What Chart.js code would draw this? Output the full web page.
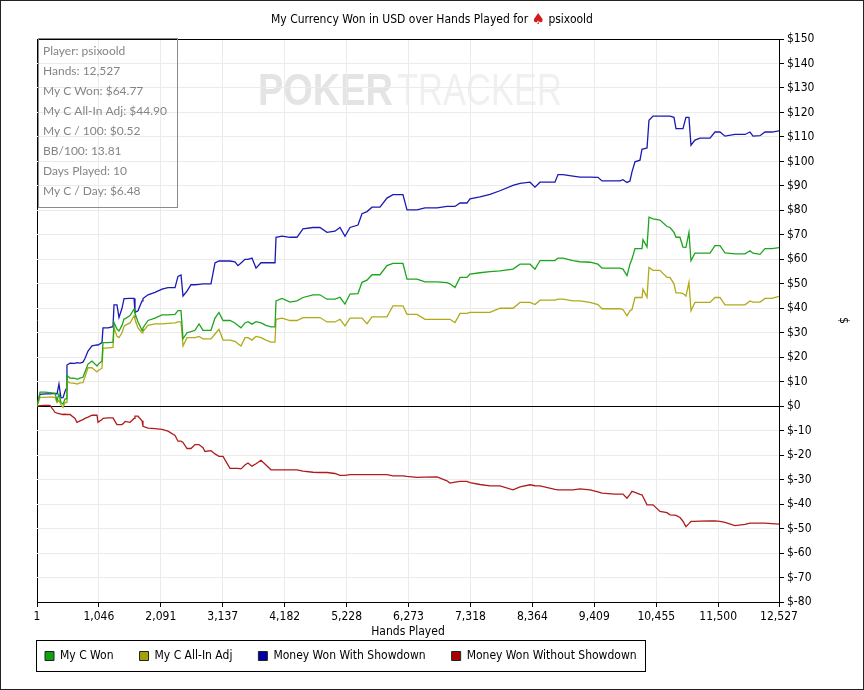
<!DOCTYPE html>
<html>
<head>
<meta charset="utf-8">
<script src="https://cdn.jsdelivr.net/npm/chart.js@4.4.0/dist/chart.umd.min.js"></script>
<style>
html, body { margin: 0; padding: 0; background: #fff; }
#wrap { width: 864px; height: 690px; }
</style>
</head>
<body>
<div id="wrap"><canvas id="grafica" width="864" height="690"></canvas></div>
<script>
// hands played (x) and the four running totals in $
const hands = [
  1, 52, 136, 220, 305, 339, 372, 406, 440, 474,
  491, 507, 558, 642, 676, 727, 777, 811, 862, 929,
  1014, 1031, 1098, 1115, 1200, 1284, 1301, 1351, 1385, 1436,
  1470, 1487, 1571, 1639, 1655, 1706, 1774, 1790, 1875, 1993,
  2111, 2212, 2331, 2381, 2432, 2466, 2533, 2601, 2668, 2736,
  2803, 2837, 2938, 3006, 3073, 3141, 3259, 3343, 3394, 3445,
  3512, 3563, 3630, 3698, 3782, 3867, 3951, 4019, 4036, 4137,
  4272, 4390, 4491, 4660, 4778, 4896, 5031, 5116, 5200, 5285,
  5420, 5487, 5572, 5656, 5791, 5909, 6010, 6179, 6247, 6416,
  6551, 6753, 6922, 6973, 7057, 7142, 7260, 7310, 7479, 7648,
  7817, 8036, 8155, 8324, 8408, 8492, 8745, 8796, 8881, 9049,
  9167, 9336, 9471, 9539, 9758, 9842, 9893, 9961, 10011, 10045,
  10096, 10180, 10214, 10231, 10299, 10332, 10400, 10518, 10636, 10687,
  10754, 10788, 10855, 10906, 10956, 11007, 11041, 11108, 11193, 11362,
  11446, 11531, 11615, 11784, 11953, 12037, 12088, 12206, 12290, 12408,
  12527
]
const myCWon = [
  0, 5.7, 5.7, 5.5, 5.2, 2.3, 5, 1.5, 0.8, 3,
  3, 12.6, 11.5, 11.4, 11, 11.5, 11.8, 14, 17.2, 18.4,
  16.4, 17, 18.5, 26, 26, 26.2, 34.2, 31.5, 30.7, 33,
  35.7, 35.7, 37, 39.6, 38, 34.4, 31, 32, 35, 36,
  37.3, 37.3, 37.5, 39, 39, 27.5, 30, 30.5, 31, 33.6,
  31, 31, 31, 36, 38.3, 35, 35, 34, 33, 32,
  34, 34.5, 33.5, 34.5, 34, 33, 32.4, 32.4, 43, 44,
  42.5, 43, 44.4, 45.5, 45.5, 43.7, 43.7, 44.5, 41.7, 45.8,
  46, 50.6, 51.5, 53.7, 53.7, 57.4, 58.3, 58.3, 51.9, 51.9,
  50.8, 50.8, 50.5, 50, 48.5, 52.6, 52.6, 54, 54.5, 55,
  55.3, 56, 58, 58, 56, 59.5, 59.5, 60.5, 60.5, 59.5,
  59, 58.8, 58, 56.4, 56.4, 56.4, 56, 53.3, 58, 60.1,
  64.4, 64.4, 64.4, 68, 65, 77.2, 76.5, 76, 73.4, 73,
  71, 69, 69, 65, 64.9, 71, 59.4, 62.5, 62.5, 62.5,
  65.6, 65.6, 62.6, 62.2, 62.2, 63.5, 62.5, 62, 64.4, 64.4,
  64.77
]
const allInAdj = [
  0, 3.6, 3.6, 3.8, 3.6, 1.5, 2.5, 0.5, -0.5, 1.5,
  1.5, 10.2, 9.5, 9.3, 9, 9.5, 9.6, 12, 15.7, 15.7,
  14, 14.5, 15.5, 23.6, 23.8, 24, 32.1, 28.5, 28, 30,
  32.5, 33, 34, 36.9, 35.5, 32, 30, 30.5, 33, 33.6,
  33.6, 33.8, 34, 34.4, 34.4, 24.6, 28, 28, 28, 28.5,
  27.5, 27.5, 27.5, 29.5, 31.4, 27, 27, 26.5, 25.5, 24.6,
  28, 28, 27, 28.5, 28, 27, 26.2, 26.2, 35.5, 36,
  35, 35, 36.2, 36.2, 36.2, 34.4, 34.4, 35.5, 32.8, 36,
  36, 36, 33.7, 36.5, 36.5, 36.5, 41, 41, 37.5, 37.5,
  35.5, 35.5, 35.5, 35.5, 34.2, 37.9, 37.9, 38.3, 38.3, 38.3,
  40, 40, 42.4, 42.4, 41.5, 43.3, 43.3, 43.7, 43.7, 43,
  43, 42.4, 41.5, 39.8, 39.8, 39.8, 39.5, 36.9, 39, 39.5,
  44.4, 44.4, 44.4, 47.8, 44.5, 56.7, 55.5, 55.5, 52.6, 52.6,
  50, 46.3, 46.3, 46, 45, 50.6, 39, 42.4, 42.4, 42.4,
  44.4, 44.4, 41.4, 41.4, 41.4, 43, 42.5, 42.5, 44, 44,
  44.9
]
const withShowdown = [
  0, 4.8, 5, 5, 5.2, 5, 9, 3.4, 3.5, 6,
  7, 16.8, 17.6, 17.5, 17.8, 17.6, 18, 19.5, 22.5, 24.6,
  25, 25, 26, 32, 32, 32.5, 41.4, 41.4, 36.2, 40,
  43.9, 43.9, 44, 44, 38.3, 39, 43, 44, 45.5, 46.5,
  47.8, 48.4, 48.4, 53, 53.6, 45, 47, 49.6, 49.6, 49.8,
  50, 50, 50, 58.5, 59.3, 59.3, 59.3, 59, 57.4, 58.5,
  60, 60, 60.5, 56.4, 58.6, 58.6, 58.6, 58.6, 69, 69.5,
  69, 69, 72.4, 73, 73, 71, 71.5, 73, 69.4, 73,
  74, 78.6, 79.5, 81.3, 81.3, 85, 86.4, 86.4, 80.2, 80.2,
  81, 81, 81.6, 81.6, 81.6, 83, 83, 84.7, 85.5, 86.5,
  88, 90.2, 91, 91.5, 89.5, 91.5, 91.5, 94.6, 94.6, 94,
  93.6, 93.6, 93.5, 92, 92, 92, 92.5, 91.4, 92, 95.7,
  99.8, 100.5, 105, 105, 105.5, 116.8, 118.5, 118.5, 118.5, 118.5,
  118, 113.4, 113.4, 113.4, 118, 118, 106.6, 108.7, 109.5, 109.5,
  112, 112, 110.3, 111, 111, 112, 110.3, 110.5, 112, 112,
  112.5
]
const withoutShowdown = [
  0, 0.2, 0.3, 0.3, -2.5, -2.8, -3, -3.2, -3.4, -3.3,
  -3.4, -3.4, -3.4, -5, -6.6, -6, -5.5, -5, -4.5, -3.7,
  -3.7, -6.6, -5.5, -5, -4.8, -4.8, -5.5, -7.5, -7.5, -7.5,
  -6.8, -6.2, -6.6, -5, -4.1, -4.1, -6, -8.2, -9, -9.2,
  -9.5, -10.2, -12, -14.3, -14.3, -14.8, -17.3, -17.3, -15.7, -15.7,
  -17, -18.5, -18.2, -19.5, -20.5, -20.5, -25.4, -25.4, -25.4, -25.6,
  -24, -23.2, -24.5, -23.5, -22.1, -24, -26, -26, -26, -26,
  -26, -26, -26.5, -27, -27.1, -27.1, -27.5, -28.3, -28.3, -28,
  -28, -28, -28, -28, -28, -28, -28.5, -28.5, -28.7, -29.1,
  -29, -28.9, -30.5, -31.4, -31, -30.7, -30.7, -31.2, -32, -32.6,
  -32.6, -34.2, -33, -32.1, -32.5, -32.6, -34, -34.2, -34.2, -34.2,
  -33.8, -34.2, -35, -35.5, -35.9, -35.9, -35.9, -37.6, -36, -34.8,
  -35.2, -36, -36.2, -37, -40.3, -40.3, -40.3, -43, -43.5, -44.4,
  -44.5, -44.6, -45.5, -47, -49.2, -48, -47.1, -47.1, -47, -46.9,
  -46.9, -47.1, -47.5, -48.8, -48.3, -47.8, -47.8, -47.8, -47.8, -48,
  -48.2
]

const xTicks = [1, 1046, 2091, 3137, 4182, 5228, 6273, 7318, 8364, 9409, 10455, 11500, 12527]
const yMin = -80
const yMax = 150
const yStep = 10

const infoLines = [
  'Player: psixoold',
  'Hands: 12,527',
  'My C Won: $64.77',
  'My C All-In Adj: $44.90',
  'My C / 100: $0.52',
  'BB/100: 13.81',
  'Days Played: 10',
  'My C / Day: $6.48'
]

const puntos = serie => hands.map((h, i) => ({x: h, y: serie[i]}))

const fuente = '"DejaVu Sans Condensed", "DejaVu Sans", sans-serif'
Chart.defaults.font.family = fuente
Chart.defaults.font.size = 12
Chart.defaults.color = '#000'

// title, info box, watermark, frames
const adornos = {
  id: 'adornos',
  afterLayout(chart) {
    const lg = chart.legend
    lg.left = 19
    lg.top -= 18
    lg.bottom -= 18
  },
  beforeDraw(chart) {
    const ctx = chart.ctx
    ctx.save()
    ctx.textBaseline = 'alphabetic'
    ctx.font = 'bold 45px "Liberation Sans", Arial, sans-serif'
    let w = ctx.measureText('POKER').width
    ctx.save()
    ctx.translate(258, 105)
    ctx.scale(135 / w, 1)
    ctx.fillStyle = '#e4e4e4'
    ctx.fillText('POKER', 0, 0)
    ctx.restore()
    ctx.font = '45px "Liberation Sans", Arial, sans-serif'
    w = ctx.measureText('TRACKER').width
    ctx.translate(397, 105)
    ctx.scale(165 / w, 1)
    ctx.fillStyle = '#f0f0f0'
    ctx.fillText('TRACKER', 0, 0)
    ctx.restore()
  },
  afterDraw(chart) {
    const ctx = chart.ctx
    ctx.save()
    // title
    const t1 = 'My Currency Won in USD over Hands Played for '
    const t2 = ' psixoold'
    ctx.font = '12px ' + fuente
    ctx.textBaseline = 'middle'
    const w1 = ctx.measureText(t1).width
    const w2 = ctx.measureText(t2).width
    ctx.font = '15px "DejaVu Sans", sans-serif'
    const ws = ctx.measureText('\u2660').width
    let x = 432 - (w1 + ws + w2) / 2
    ctx.font = '12px ' + fuente
    ctx.fillStyle = '#000'
    ctx.fillText(t1, x, 20)
    ctx.font = '15px "DejaVu Sans", sans-serif'
    ctx.fillStyle = '#d01c1c'
    ctx.fillText('\u2660', x + w1, 20)
    ctx.font = '12px ' + fuente
    ctx.fillStyle = '#000'
    ctx.fillText(t2, x + w1 + ws, 20)

    // info box
    ctx.strokeStyle = '#8a8a8a'
    ctx.lineWidth = 1
    ctx.strokeRect(38.5, 38.5, 139, 169)
    ctx.font = '12px Lato, "Noto Sans", sans-serif'
    ctx.fillStyle = '#858585'
    infoLines.forEach((l, i) => ctx.fillText(l, 43, 51 + i * 20))

    // legend frame
    const cajas = chart.legend.legendHitBoxes
    const ult = cajas[cajas.length - 1]
    ctx.strokeStyle = '#000'
    ctx.strokeRect(36.5, 640.5, Math.round(ult.left + ult.width + 8) - 36, 31)

    // outer frame
    ctx.strokeStyle = '#222'
    ctx.strokeRect(0.5, 0.5, 863, 689)
    ctx.restore()
  }
}

const linea = (label, serie, color, relleno) => ({
  label: label,
  data: puntos(serie),
  borderColor: color,
  backgroundColor: relleno,
  borderWidth: 1.3,
  pointRadius: 0,
  tension: 0
})

new Chart(document.querySelector('#grafica'), {
  type: 'line',
  data: {
    datasets: [
      linea('My C Won', myCWon, '#1ea51e', '#12a012'),
      linea('My C All-In Adj', allInAdj, '#b0aa18', '#a3a300'),
      linea('Money Won With Showdown', withShowdown, '#1a1ab4', '#0000a8'),
      linea('Money Won Without Showdown', withoutShowdown, '#b01c1c', '#a80000')
    ]
  },
  options: {
    responsive: false,
    animation: false,
    layout: { padding: { left: 37, top: 39, right: 0, bottom: 0 } },
    plugins: {
      title: { display: false },
      tooltip: { enabled: false },
      legend: {
        position: 'bottom',
        align: 'start',
        labels: {
          boxWidth: 9,
          boxHeight: 9,
          padding: 26,
          font: { size: 12 },
          generateLabels: chart => Chart.defaults.plugins.legend.labels.generateLabels(chart)
            .map(l => Object.assign(l, { strokeStyle: '#222', lineWidth: 1 }))
        }
      }
    },
    scales: {
      x: {
        type: 'linear',
        min: 1,
        max: 12527,
        afterBuildTicks: s => { s.ticks = xTicks.map(v => ({ value: v })) },
        afterFit: s => { s.height = 40 },
        ticks: {
          autoSkip: false,
          maxRotation: 0,
          padding: 3,
          callback: v => v.toLocaleString('en-US')
        },
        grid: {
          color: c => (c.tick && c.tick.value === 1) ? '#000' : '#ebebeb',
          tickColor: '#000',
          tickLength: 5
        },
        border: { display: true, color: '#000' },
        title: { display: true, text: 'Hands Played', padding: { top: 0, bottom: 3 } }
      },
      y: {
        position: 'right',
        min: yMin,
        max: yMax,
        afterFit: s => { s.width = 85 },
        ticks: {
          stepSize: yStep,
          autoSkip: false,
          padding: 3,
          callback: v => '$' + v
        },
        grid: {
          color: c => (c.tick && (c.tick.value === 0 || c.tick.value === yMax)) ? '#000' : '#ebebeb',
          tickColor: '#000',
          tickLength: 5
        },
        border: { display: true, color: '#000' },
        title: { display: true, text: '$', padding: { top: 14, bottom: 4 } }
      }
    }
  },
  plugins: [adornos]
})
</script>
</body>
</html>
